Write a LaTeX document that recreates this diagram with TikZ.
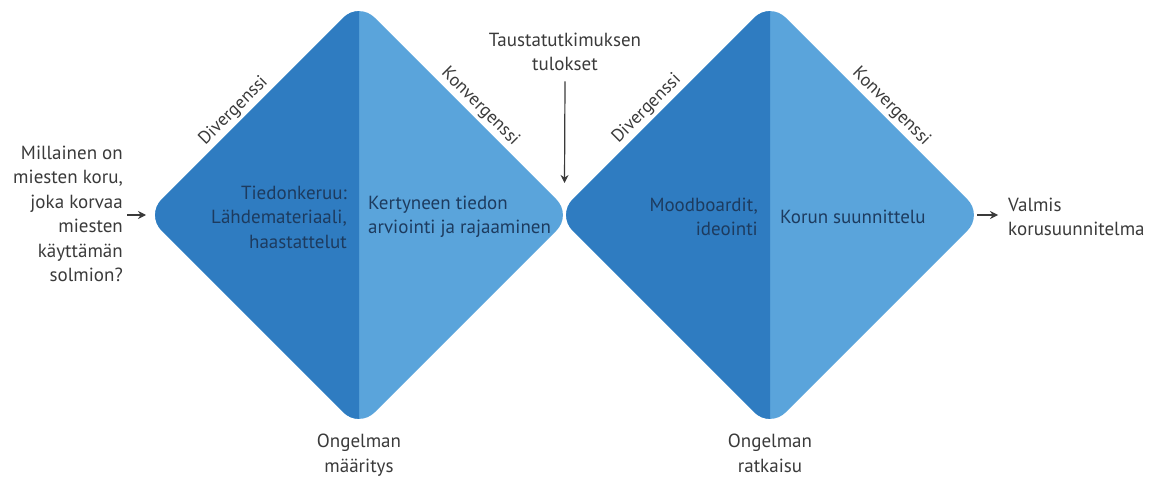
\documentclass[tikz,border=0pt]{standalone}
\usepackage{fontspec}
\setmainfont{PT Sans}
\usetikzlibrary{arrows.meta,calc}
\definecolor{darkhalf}{HTML}{2F7CC1}
\definecolor{lighthalf}{HTML}{5AA4DB}
\definecolor{innertext}{HTML}{1D3B5F}
\definecolor{outertext}{HTML}{3A3A3A}

\begin{document}
\begin{tikzpicture}[x=1pt,y=-1pt,
	outer/.style={text=outertext,font=\fontsize{19}{24.5}\selectfont,inner sep=0pt},
	inner/.style={text=innertext,font=\fontsize{19}{24.5}\selectfont,inner sep=0pt},
	phase/.style={text=outertext,font=\fontsize{18}{20}\selectfont,anchor=south,inner sep=3pt},
	flow/.style={-{Stealth[length=8pt,width=8pt]},outertext,line width=1.2pt}]
	\useasboundingbox (0,0) rectangle (1155,481);

	% the two diamonds
	\foreach \n/\cx in {1/359,2/770}{
		\coordinate (c\n) at (\cx,215);
		\coordinate (t\n) at (\cx,2);
		\coordinate (l\n) at (\cx-213,215);
		\coordinate (r\n) at (\cx+213,215);
		\coordinate (b\n) at (\cx,428);
		\fill[lighthalf,rounded corners=22pt] (t\n)--(r\n)--(b\n)--(l\n)--cycle;
		\begin{scope}
			\clip (\cx-220,0) rectangle (\cx,481);
			\fill[darkhalf,rounded corners=22pt] (t\n)--(r\n)--(b\n)--(l\n)--cycle;
		\end{scope}
	}
	\coordinate (meet) at ($(r1)!0.5!(l2)$);

	\node[phase,rotate=45] (div1) at ($(l1)!0.45!(t1)$) {Divergenssi};
	\node[phase,rotate=-45] (conv1) at ($(t1)!0.53!(r1)$) {Konvergenssi};
	\node[phase,rotate=45] (div2) at ($(l2)!0.46!(t2)$) {Divergenssi};
	\node[phase,rotate=-45] (conv2) at ($(t2)!0.53!(r2)$) {Konvergenssi};

	\node[inner,align=right,anchor=east] (collect) at ($(c1)+(-12,2)$) {Tiedonkeruu:\\Lähdemateriaali,\\haastattelut};
	\node[inner,align=left,anchor=west] (assess) at ($(c1)+(9,2)$) {Kertyneen tiedon\\arviointi ja rajaaminen};
	\node[inner,align=right,anchor=east] (ideas) at ($(c2)+(-12,2)$) {Moodboardit,\\ideointi};
	\node[inner,align=left,anchor=west] (design) at ($(c2)+(10,2)$) {Korun suunnittelu};

	\node[outer,align=right,anchor=east] (question) at (123,214) {Millainen on\\miesten koru,\\joka korvaa\\miesten\\käyttämän\\solmion?};
	\node[outer,align=center] (input) at (565,52) {Taustatutkimuksen\\tulokset};
	\node[outer,align=left,anchor=west] (result) at (1008,217) {Valmis\\korusuunnitelma};
	\node[outer,align=center,anchor=north] (define) at ($(b1)+(0,6)$) {Ongelman\\määritys};
	\node[outer,align=center,anchor=north] (solve) at ($(b2)+(0,6)$) {Ongelman\\ratkaisu};

	\draw[flow] ($(question.east |- l1)+(4,0)$) -- (l1);
	\draw[flow] ($(input.south)+(0,10)$) -- ($(meet)+(0,-32)$);
	\draw[flow] ($(r2)+(-6,0)$) -- ($(result.west |- r2)+(-10,0)$);
\end{tikzpicture}
\end{document}
